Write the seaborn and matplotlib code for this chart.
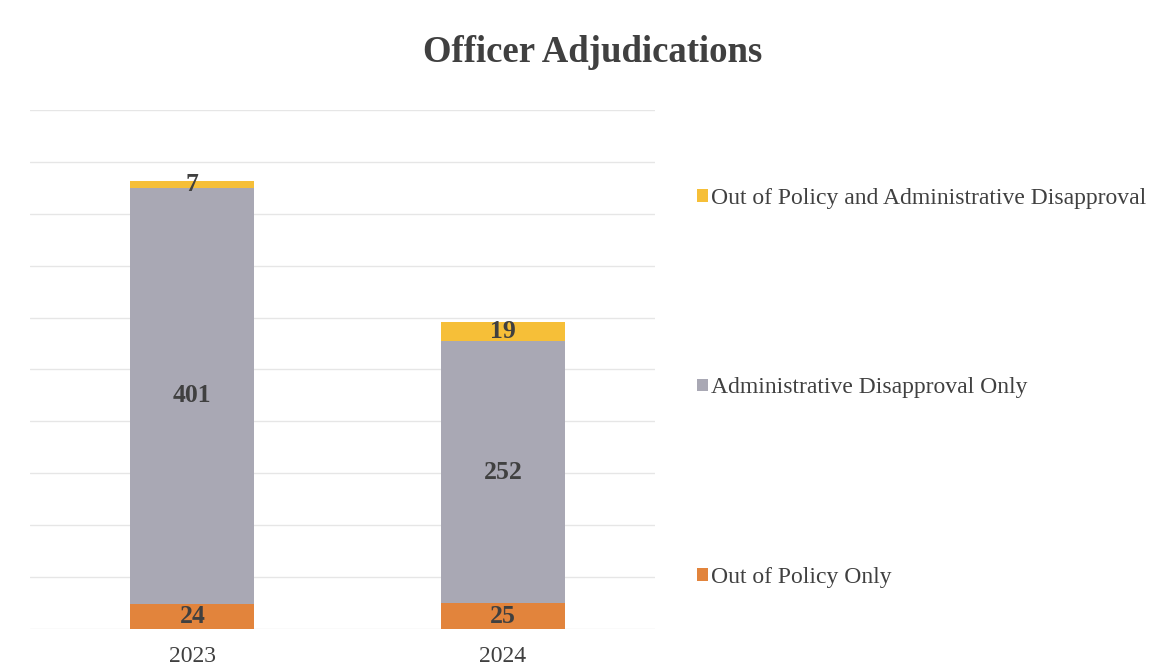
import matplotlib
matplotlib.use("Agg")
import matplotlib.pyplot as plt
import seaborn as sns
import pandas as pd
import numpy as np
from matplotlib.patches import Patch

years = ["2023", "2024"]
out_of_policy_only = [24, 25]
admin_disapproval_only = [401, 252]
out_of_policy_and_admin = [7, 19]
series_labels = ["Out of Policy and Administrative Disapproval",
                 "Administrative Disapproval Only",
                 "Out of Policy Only"]

c_yellow = "#F6BF38"
c_gray = "#A9A8B4"
c_orange = "#E2843C"
txt = "#404040"

sns.set_theme(style="white")
plt.rcParams["font.family"] = ["Liberation Serif", "DejaVu Serif"]

fig = plt.figure(figsize=(11.7, 6.68), dpi=100)
ax = fig.add_axes([30/1170, 1-629/668, (655-30)/1170, (629-110)/668])

b1 = np.array(out_of_policy_only)
b2 = b1 + np.array(admin_disapproval_only)
b3 = b2 + np.array(out_of_policy_and_admin)

df = pd.DataFrame({"year": years, "s1": b1, "s2": b2, "s3": b3})

sns.barplot(data=df, x="year", y="s3", color=c_yellow, width=0.4, ax=ax,
            saturation=1, edgecolor="none", linewidth=0, zorder=2)
sns.barplot(data=df, x="year", y="s2", color=c_gray, width=0.4, ax=ax,
            saturation=1, edgecolor="none", linewidth=0, zorder=2)
sns.barplot(data=df, x="year", y="s1", color=c_orange, width=0.4, ax=ax,
            saturation=1, edgecolor="none", linewidth=0, zorder=2)

ax.set_ylim(0, 500)
ax.set_xlim(-0.523, 1.49)
ax.set_yticks(np.arange(0, 501, 50))
ax.yaxis.grid(True, color="#E6E6E6", linewidth=1)
ax.set_axisbelow(True)
ax.tick_params(axis="y", left=False, labelleft=False)
ax.tick_params(axis="x", bottom=False, labelsize=17, labelcolor=txt, pad=6)
for s in ax.spines.values():
    s.set_visible(False)
ax.set_xlabel("")
ax.set_ylabel("")

# data labels
for i in range(len(years)):
    segs = [(0, b1[i], out_of_policy_only[i]),
            (b1[i], b2[i], admin_disapproval_only[i]),
            (b2[i], b3[i], out_of_policy_and_admin[i])]
    for lo, hi, v in segs:
        ax.text(i, (lo + hi) / 2, str(v), ha="center", va="center",
                fontsize=18.5, fontweight="bold", color=txt, zorder=3)

fig.text(593/1170, 1-53/668, "Officer Adjudications", ha="center", va="center",
         fontsize=26.5, fontweight="bold", color=txt)

handles = [Patch(facecolor=c_yellow, edgecolor="none"),
           Patch(facecolor=c_gray, edgecolor="none"),
           Patch(facecolor=c_orange, edgecolor="none")]
leg = fig.legend(handles, series_labels, loc="center left",
                 bbox_to_anchor=(676/1170, 1-388/668), frameon=False,
                 fontsize=17, labelcolor=txt, handlelength=0.45,
                 handleheight=0.45, handletextpad=0.15, labelspacing=7.13)

fig.savefig("out.png", dpi=100, facecolor="white")
